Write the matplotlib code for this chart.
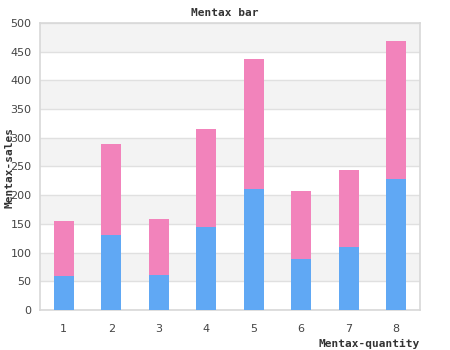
import matplotlib.pyplot as plt
import numpy as np

# sales per quantity bucket, two stacked series
categories = ['1', '2', '3', '4', '5', '6', '7', '8']
base_sales = [60, 131, 61, 145, 211, 88, 109, 228]
extra_sales = [95, 158, 98, 170, 226, 119, 135, 241]
y_ticks = [0, 50, 100, 150, 200, 250, 300, 350, 400, 450, 500]

fig = plt.figure(figsize=(4.5, 3.5), dpi=100)
ax = fig.add_axes([40 / 450, 40 / 350, 380 / 450, 287 / 350])

x = np.arange(len(categories))
ax.bar(x, base_sales, width=0.42, color='#60a8f4', zorder=3)
ax.bar(x, extra_sales, width=0.42, bottom=base_sales, color='#f283bb', zorder=3)

# alternating horizontal bands
for lo in range(50, 500, 100):
    ax.axhspan(lo, lo + 50, color='#f3f3f3', zorder=0, lw=0)
for t in y_ticks:
    ax.axhline(t, color='#e0e0e0', lw=1, zorder=1)

ax.set_xlim(-0.5, len(categories) - 0.5)
ax.set_ylim(0, 500)
ax.set_xticks(x)
ax.set_xticklabels(categories)
ax.set_yticks(y_ticks)
ax.tick_params(length=0, labelsize=8, colors='#444444', pad=10)
ax.tick_params(axis='y', pad=6)
for s in ax.spines.values():
    s.set_color('#d8d8d8')
    s.set_linewidth(1.2)

mono = dict(family='DejaVu Sans Mono', fontweight='bold', fontsize=8, color='#333333')
fig.text(225 / 450, 1 - 13 / 350, 'Mentax bar', ha='center', va='center', **mono)
fig.text(420 / 450, 1 - 344 / 350, 'Mentax-quantity', ha='right', va='center', **mono)
fig.text(10 / 450, 1 - 168 / 350, 'Mentax-sales', ha='center', va='center',
         rotation=90, **mono)

fig.savefig('out.png', dpi=100)
